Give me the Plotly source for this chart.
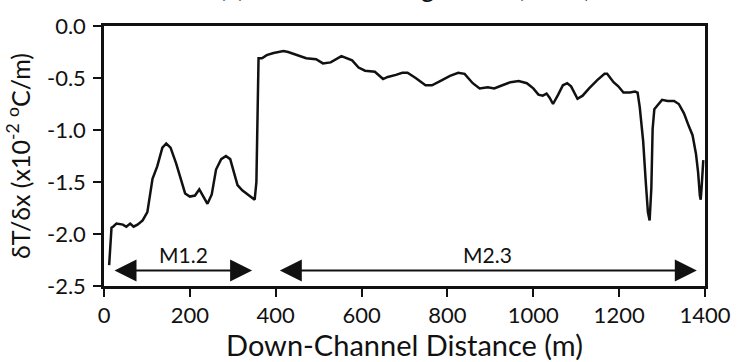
import plotly.graph_objects as go

# ---- data ----
distance_m = [12, 17.5, 21, 29, 44, 52, 61, 69, 78, 90, 101, 113, 124, 136, 145, 155, 168, 181, 189,
              200, 212, 222, 231, 241, 251, 261, 273, 284, 294, 302, 311, 322, 334, 345, 351, 355,
              358, 360, 368, 379, 395, 418, 429, 448, 459, 471, 494, 510, 528, 553, 578, 593, 608,
              631, 650, 661, 680, 695, 707, 726, 749, 764, 783, 806, 825, 840, 859, 875, 894, 909,
              928, 947, 966, 985, 1000, 1012, 1022, 1031, 1038, 1046, 1058, 1069, 1079, 1088, 1103,
              1115, 1130, 1149, 1166, 1172, 1187, 1198, 1210, 1225, 1237, 1243, 1248, 1256, 1262,
              1267, 1271, 1275, 1278, 1282, 1290, 1300, 1313, 1328, 1339, 1351, 1362, 1371, 1379,
              1384, 1388, 1390, 1392, 1396]
gradient = [-2.30, -1.94, -1.93, -1.90, -1.91, -1.93, -1.90, -1.93, -1.91, -1.87, -1.79, -1.47,
            -1.35, -1.17, -1.13, -1.17, -1.32, -1.50, -1.61, -1.64, -1.63, -1.57, -1.63, -1.71,
            -1.62, -1.38, -1.28, -1.25, -1.28, -1.41, -1.53, -1.58, -1.62, -1.65, -1.67, -1.50,
            -0.50, -0.31, -0.31, -0.28, -0.26, -0.24, -0.25, -0.28, -0.29, -0.31, -0.32, -0.36,
            -0.35, -0.29, -0.33, -0.40, -0.43, -0.44, -0.51, -0.49, -0.47, -0.45, -0.45, -0.50,
            -0.57, -0.57, -0.53, -0.48, -0.45, -0.46, -0.55, -0.60, -0.59, -0.60, -0.57, -0.54,
            -0.53, -0.55, -0.60, -0.66, -0.67, -0.65, -0.69, -0.75, -0.66, -0.57, -0.55, -0.58,
            -0.70, -0.67, -0.60, -0.52, -0.46, -0.46, -0.54, -0.58, -0.64, -0.64, -0.63, -0.64,
            -0.78, -1.11, -1.50, -1.79, -1.87, -1.56, -0.99, -0.80, -0.76, -0.71, -0.72, -0.72,
            -0.75, -0.84, -0.96, -1.05, -1.23, -1.41, -1.63, -1.67, -1.56, -1.29]

segment_names = ["M1.2", "M2.3"]
segment_start = [21, 406]
segment_end = [345, 1381]
segment_label_x = [185, 894]
arrow_level = -2.35
label_level = -2.20

x_ticks = [0, 200, 400, 600, 800, 1000, 1200, 1400]
y_ticks = [0.0, -0.5, -1.0, -1.5, -2.0, -2.5]
y_tick_text = ["0.0", "-0.5", "-1.0", "-1.5", "-2.0", "-2.5"]

title_text = "(a) Thermal Forcing Reach (2010)"

FONT = "Lato, 'Open Sans', sans-serif"
INK = "#111111"

fig = go.Figure()
fig.add_trace(go.Scatter(x=distance_m, y=gradient, mode="lines",
                         line=dict(color=INK, width=2.5), showlegend=False,
                         hoverinfo="skip"))

for name, s, e, lx in zip(segment_names, segment_start, segment_end, segment_label_x):
    fig.add_annotation(x=e, y=arrow_level, ax=s, ay=arrow_level,
                       xref="x", yref="y", axref="x", ayref="y",
                       text="", showarrow=True, arrowside="end+start",
                       arrowhead=2, startarrowhead=2, arrowsize=2.2, startarrowsize=2.2,
                       arrowwidth=2, arrowcolor=INK, standoff=0, startstandoff=0)
    fig.add_annotation(x=lx, y=label_level, xref="x", yref="y", text=name,
                       showarrow=False, font=dict(family=FONT, size=21, color=INK))

# figure title, mostly cropped off the top edge as in the reference
fig.add_annotation(x=0.5, y=1, xref="paper", yref="paper", xanchor="center",
                   yanchor="bottom", yshift=21, text=title_text, showarrow=False,
                   font=dict(family=FONT, size=26, color=INK))

fig.update_layout(
    width=743, height=362,
    margin=dict(l=104, r=27, t=14, b=72),
    paper_bgcolor="white", plot_bgcolor="white",
    font=dict(family=FONT, color=INK),
    xaxis=dict(range=[0, 1400], tickvals=x_ticks, ticks="outside", ticklen=8,
               tickwidth=2, tickcolor=INK, linecolor=INK, linewidth=2.5, mirror=True,
               showgrid=False, zeroline=False, tickfont=dict(size=22, family=FONT),
               title=dict(text="Down-Channel Distance (m)", font=dict(size=29, family=FONT),
                          standoff=2)),
    yaxis=dict(range=[-2.5, 0], tickvals=y_ticks, ticktext=y_tick_text, ticks="outside",
               ticklen=8, tickwidth=2, tickcolor=INK, linecolor=INK, linewidth=2.5,
               mirror=True, showgrid=False, zeroline=False, ticklabelstandoff=3,
               tickfont=dict(size=22, family=FONT),
               title=dict(text="δT/δx (x10<sup>-2</sup> <sup>o</sup>C/m)",
                          font=dict(size=25, family=FONT), standoff=10)),
)

fig.write_html("out.html")
